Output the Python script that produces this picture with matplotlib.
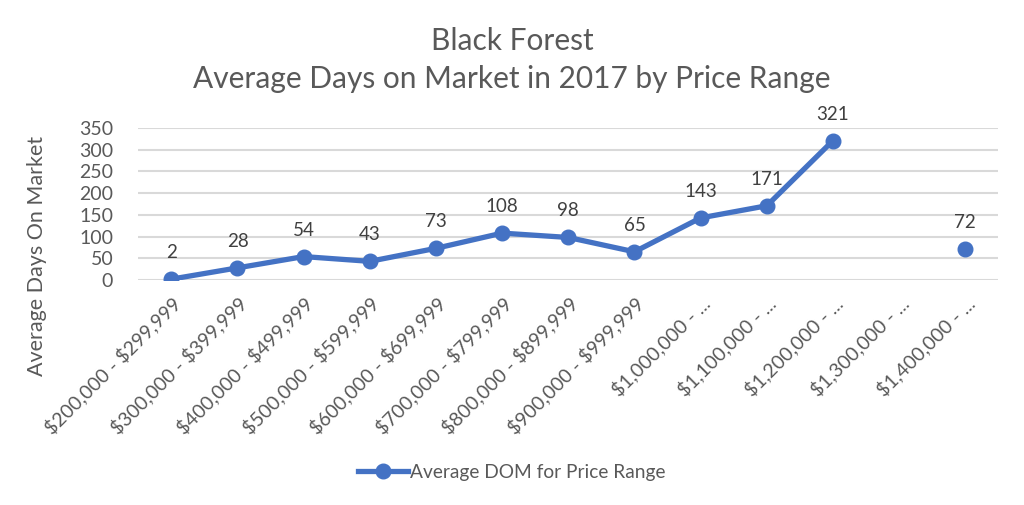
import numpy as np
import matplotlib
matplotlib.use("Agg")
import matplotlib.pyplot as plt

# price ranges (x categories) and average days on market
categories = ["$200,000 - $299,999", "$300,000 - $399,999", "$400,000 - $499,999",
              "$500,000 - $599,999", "$600,000 - $699,999", "$700,000 - $799,999",
              "$800,000 - $899,999", "$900,000 - $999,999", "$1,000,000 - ...",
              "$1,100,000 - ...", "$1,200,000 - ...", "$1,300,000 - ...",
              "$1,400,000 - ..."]
avg_dom = [2, 28, 54, 43, 73, 108, 98, 65, 143, 171, 321, None, 72]

plt.rcParams['font.family'] = ['Lato', 'DejaVu Sans']
txt = '#595959'
blue = '#4472C4'

fig = plt.figure(figsize=(10.24, 5.05), dpi=100)
ax = fig.add_axes([0.135, 0.4455, 0.84, 0.301])

x = np.arange(len(categories))
y = np.array([np.nan if v is None else v for v in avg_dom], dtype=float)
ax.plot(x, y, color=blue, lw=3.8, marker='o', ms=10.5, label='Average DOM for Price Range', zorder=3)

# data labels above each point
for xi, v in zip(x, avg_dom):
    if v is not None:
        ax.annotate(str(v), (xi, v), xytext=(0, 13), textcoords='offset points',
                    ha='center', va='bottom', fontsize=13.5, color='#404040')

ax.set_xlim(-0.5, len(categories) - 0.5)
ax.set_ylim(0, 350)
ax.set_yticks(range(0, 351, 50))
ax.grid(axis='y', color='#d9d9d9', lw=1.5)
ax.set_axisbelow(True)
for s in ax.spines.values():
    s.set_visible(False)
ax.tick_params(length=0, colors=txt, labelsize=14)
ax.set_xticks(x)
ax.set_xticklabels(categories, rotation=45, ha='right', rotation_mode='anchor', parse_math=False)
ax.tick_params(axis='x', pad=10)
ax.tick_params(axis='y', pad=18)

ax.set_ylabel('Average Days On Market', fontsize=15.5, color=txt)
ax.yaxis.set_label_coords(-0.106, 0.16)
fig.text(0.5, 0.918, 'Black Forest', ha='center', va='center', fontsize=21.5, color=txt)
fig.text(0.5, 0.843, 'Average Days on Market in 2017 by Price Range', ha='center', va='center',
         fontsize=21.5, color=txt)

fig.legend(loc='center', bbox_to_anchor=(0.5, 0.065), frameon=False, fontsize=13.8,
           labelcolor=txt, handlelength=2.6, handletextpad=0.1)

fig.savefig('out.png', dpi=100)
